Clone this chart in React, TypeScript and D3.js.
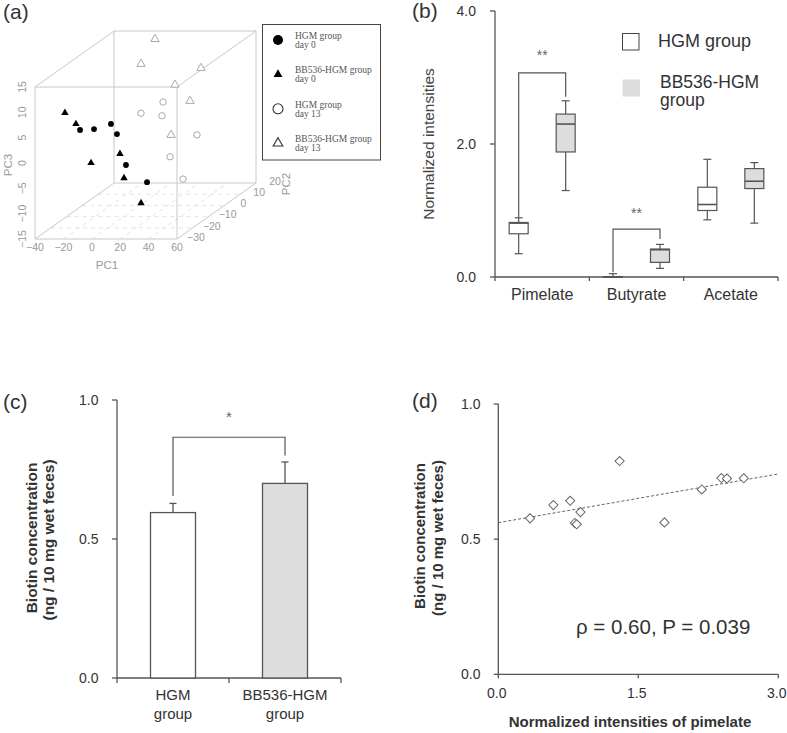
import React from "react";
import * as d3 from "d3";

// ---------- (a) PCA scores [PC1, PC2, PC3] ----------
const pcaHgmDay0: number[][] = [[-19.4, -20, 4.3], [-4.0, -25, 5.6], [-3.2, -15, 4.4], [6.6, -20, 3.5], [18.5, -25, -1.5], [22.2, -15, -7.1]];
const pcaBbDay0: number[][] = [[-35.6, -15, 6.6], [-22.3, -20, 5.5], [-6.1, -25, -1.1], [8.7, -20, -0.4], [6.0, -15, -6.3], [29.1, -25, -9.0]];
const pcaHgmDay13: number[][] = [[1.3, 0, 3.2], [11.2, 5, 4.3], [21.6, -5, 3.8], [29.6, 10, -3.3], [21.7, 0, -5.4], [36.4, -5, -8.7]];
const pcaBbDay13: number[][] = [[-5.6, 15, 14.5], [-4.3, 5, 11.8], [32.4, 10, 9.9], [25.2, 0, 8.8], [30.2, 5, 4.5], [28.0, -5, 0]];
const pcaLegend: string[][] = [["HGM group", "day 0"], ["BB536-HGM group", "day 0"], ["HGM group", "day 13"], ["BB536-HGM group", "day 13"]];
const pc1Ticks = [-40, -20, 0, 20, 40, 60];
const pc2Ticks = [-30, -20, -10, 0, 10, 20];
const pc3Ticks = [-15, -10, -5, 0, 5, 10, 15];

// ---------- (b) box plots [min, q1, median, q3, max] ----------
const metabolites = ["Pimelate", "Butyrate", "Acetate"];
const boxGroups = ["HGM group", "BB536-HGM group"];
const hgmBoxes: number[][] = [[0.35, 0.65, 0.81, 0.82, 0.89], [0.0, 0.0, 0.0, 0.005, 0.05], [0.86, 1.0, 1.09, 1.35, 1.77]];
const bbBoxes: number[][] = [[1.3, 1.88, 2.3, 2.45, 2.65], [0.13, 0.22, 0.41, 0.42, 0.49], [0.81, 1.33, 1.44, 1.63, 1.72]];
const bTicks = [0, 2, 4];
// significance brackets: [category, top, left leg end, right leg end, star level]
const bSig: [string, number, number, number, number][] = [["Pimelate", 3.07, 0.9, 2.71, 3.37], ["Butyrate", 0.72, 0.07, 0.57, 1.0]];

// ---------- (c) bars ----------
const barGroups = ["HGM group", "BB536-HGM group"];
const barMeans = [0.595, 0.70];
const barErrors = [0.033, 0.077];
const cTicks = [0, 0.5, 1.0];
const cSig = { top: 0.866, leftEnd: 0.655, rightEnd: 0.8, star: 0.95 };

// ---------- (d) scatter ----------
const pimelate = [0.34, 0.59, 0.77, 0.88, 0.82, 0.84, 1.3, 1.78, 2.18, 2.39, 2.45, 2.63];
const biotin = [0.577, 0.626, 0.642, 0.6, 0.56, 0.555, 0.789, 0.562, 0.684, 0.726, 0.724, 0.725];
const fitIntercept = 0.561;
const fitSlope = 0.06;
const dXTicks = [0, 1.5, 3.0];
const dYTicks = [0, 0.5, 1.0];

const SANS = "'Liberation Sans', Arial, sans-serif";
const SERIF = "'Liberation Serif', 'Times New Roman', serif";
const AX = "#555";
const TXT = "#333";

export default function App() {
  // ===== (a) =====
  const pc1 = d3.scaleLinear().domain([-40, 60]).range([35, 177]);
  const pc3 = d3.scaleLinear().domain([-15, 15]).range([239, 87]);
  const depth = d3.scaleLinear().domain([-30, 20]).range([0, 1]);
  const proj = (a: number, b: number, c: number): [number, number] => [pc1(a) + 79 * depth(b), pc3(c) - 56 * depth(b)];
  const [x0, x1] = pc1.domain();
  const [y0, y1] = depth.domain();
  const [z0, z1] = pc3.domain();
  const corners = [x0, x1].flatMap((a) => [y0, y1].flatMap((b) => [z0, z1].map((c) => [a, b, c])));
  const edges: [number[], number[]][] = [];
  corners.forEach((p, i) => corners.forEach((q, j) => {
    if (j > i) {
      const diff = p.filter((v, k) => v !== q[k]).length;
      if (diff === 1) edges.push([p, q]);
    }
  }));
  const triSmall = d3.symbol().type(d3.symbolTriangle).size(24)() as string;
  const triLegend = d3.symbol().type(d3.symbolTriangle).size(34)() as string;
  const triOpen = d3.symbol().type(d3.symbolTriangle).size(30)() as string;
  const triOpenLegend = d3.symbol().type(d3.symbolTriangle).size(40)() as string;

  // ===== (b) =====
  const bx = d3.scaleBand().domain(metabolites).range([495, 778]);
  const by = d3.scaleLinear().domain([0, 4]).range([277, 11]);
  const bOff = d3.scaleOrdinal<string, number>().domain(boxGroups).range([-23.5, 23.5]);
  const bc = (m: string) => (bx(m) as number) + bx.bandwidth() / 2;
  const boxW = 19;
  const capW = 8;
  const renderBox = (m: string, g: string, v: number[], fill: string, key: string) => {
    const cx = bc(m) + bOff(g);
    return (
      <g key={key} stroke={AX} strokeWidth={1.2}>
        <line x1={cx} x2={cx} y1={by(v[0])} y2={by(v[1])} />
        <line x1={cx} x2={cx} y1={by(v[3])} y2={by(v[4])} />
        <line x1={cx - capW / 2} x2={cx + capW / 2} y1={by(v[0])} y2={by(v[0])} />
        <line x1={cx - capW / 2} x2={cx + capW / 2} y1={by(v[4])} y2={by(v[4])} />
        <rect x={cx - boxW / 2} y={by(v[3])} width={boxW} height={by(v[1]) - by(v[3])} fill={fill} />
        <line x1={cx - boxW / 2} x2={cx + boxW / 2} y1={by(v[2])} y2={by(v[2])} strokeWidth={1.6} />
      </g>
    );
  };

  // ===== (c) =====
  const cxs = d3.scaleBand().domain(barGroups).range([117, 341]);
  const cy = d3.scaleLinear().domain([0, 1]).range([678, 400]);
  const barW = 45;
  const cc = (g: string) => (cxs(g) as number) + cxs.bandwidth() / 2;

  // ===== (d) =====
  const dx = d3.scaleLinear().domain([0, 3]).range([498.3, 778.3]);
  const dy = d3.scaleLinear().domain([0, 1]).range([674.3, 404]);
  const diamond = d3.symbol().type(d3.symbolSquare).size(42)() as string;

  return (
    <svg width={787} height={733} style={{ position: "absolute", left: 0, top: 0, background: "#fff" }} fontFamily={SANS}>
      <rect x={0} y={0} width={787} height={733} fill="#fff" />
      {/* panel labels */}
      <text x={3} y={19} fontSize={21} fill={TXT}>(a)</text>
      <text x={412} y={18} fontSize={21} fill={TXT}>(b)</text>
      <text x={3} y={409} fontSize={21} fill={TXT}>(c)</text>
      <text x={412} y={408} fontSize={21} fill={TXT}>(d)</text>

      {/* ===== (a) ===== */}
      <g>
        {pc1Ticks.slice(1, -1).map((t) => {
          const [ax, ay] = proj(t, y0, z0);
          const [bx2, by2] = proj(t, y1, z0);
          return <line key={"g1" + t} x1={ax} y1={ay} x2={bx2} y2={by2} stroke="#e2e2e2" strokeDasharray="4,4" />;
        })}
        {pc2Ticks.slice(1, -1).map((t) => {
          const [ax, ay] = proj(x0, t, z0);
          const [bx2, by2] = proj(x1, t, z0);
          return <line key={"g2" + t} x1={ax} y1={ay} x2={bx2} y2={by2} stroke="#e2e2e2" strokeDasharray="4,4" />;
        })}
        {edges.map(([p, q], i) => {
          const [ax, ay] = proj(p[0], p[1], p[2]);
          const [bx2, by2] = proj(q[0], q[1], q[2]);
          return <line key={"e" + i} x1={ax} y1={ay} x2={bx2} y2={by2} stroke="#c8c8c8" strokeWidth={1} />;
        })}
        {pc1Ticks.map((t) => (
          <text key={"t1" + t} x={pc1(t)} y={250.5} fontSize={10.5} fill="#999" textAnchor="middle">{t < 0 ? "\u2212" + Math.abs(t) : t}</text>
        ))}
        {pc3Ticks.map((t) => (
          <text key={"t3" + t} transform={`translate(26,${pc3(t)}) rotate(-90)`} fontSize={10.5} fill="#999" textAnchor="middle">{t < 0 ? "\u2212" + Math.abs(t) : t}</text>
        ))}
        {pc2Ticks.map((t) => {
          const [px, py] = proj(x1, t, z0);
          return <text key={"t2" + t} x={px + 19} y={py + 1.8} fontSize={10.5} fill="#999" textAnchor="middle">{t < 0 ? "\u2212" + Math.abs(t) : t}</text>;
        })}
        <text x={107} y={269} fontSize={11.5} fill="#999" textAnchor="middle">PC1</text>
        <text transform="translate(11.5,165) rotate(-90)" fontSize={11.5} fill="#999" textAnchor="middle">PC3</text>
        <text transform="translate(290,184) rotate(-90)" fontSize={11.5} fill="#999" textAnchor="middle">PC2</text>

        {pcaHgmDay13.map((p, i) => {
          const [px, py] = proj(p[0], p[1], p[2]);
          return <circle key={"oc" + i} cx={px} cy={py} r={3.2} fill="#fff" stroke="#aaa" strokeWidth={1} />;
        })}
        {pcaBbDay13.map((p, i) => {
          const [px, py] = proj(p[0], p[1], p[2]);
          return <path key={"ot" + i} d={triOpen} transform={`translate(${px},${py})`} fill="#fff" stroke="#aaa" strokeWidth={1} />;
        })}
        {pcaHgmDay0.map((p, i) => {
          const [px, py] = proj(p[0], p[1], p[2]);
          return <circle key={"fc" + i} cx={px} cy={py} r={2.9} fill="#000" />;
        })}
        {pcaBbDay0.map((p, i) => {
          const [px, py] = proj(p[0], p[1], p[2]);
          return <path key={"ft" + i} d={triSmall} transform={`translate(${px},${py})`} fill="#000" />;
        })}

        {/* legend */}
        <rect x={262.5} y={24.5} width={118} height={135.5} fill="#fff" stroke="#444" strokeWidth={1} />
        {pcaLegend.map((lines, i) => {
          const sy = 40 + i * 34.4;
          const marker =
            i === 0 ? <circle cx={278} cy={sy} r={5} fill="#000" /> :
            i === 1 ? <path d={triLegend} transform={`translate(278,${sy})`} fill="#000" /> :
            i === 2 ? <circle cx={278} cy={sy} r={5} fill="#fff" stroke="#333" strokeWidth={1.1} /> :
            <path d={triOpenLegend} transform={`translate(278,${sy})`} fill="#fff" stroke="#333" strokeWidth={1.1} />;
          return (
            <g key={"lg" + i}>
              {marker}
              <text x={295} y={sy - 1} fontFamily={SERIF} fontSize={9.5} fill="#555">{lines[0]}</text>
              <text x={295} y={sy + 8} fontFamily={SERIF} fontSize={9.5} fill="#555">{lines[1]}</text>
            </g>
          );
        })}
      </g>

      {/* ===== (b) ===== */}
      <g>
        <line x1={495} x2={495} y1={by(4)} y2={by(0) + 4} stroke={AX} strokeWidth={1.3} />
        <line x1={495} x2={778} y1={by(0)} y2={by(0)} stroke={AX} strokeWidth={1.3} />
        {bTicks.map((t) => (
          <g key={"bt" + t}>
            <line x1={490} x2={495} y1={by(t)} y2={by(t)} stroke={AX} strokeWidth={1.3} />
            <text x={476} y={by(t) + 5} fontSize={14} fill={TXT} textAnchor="end">{t.toFixed(1)}</text>
          </g>
        ))}
        {metabolites.map((m, i) => (
          <line key={"bxt" + i} x1={(bx(m) as number) + bx.bandwidth()} x2={(bx(m) as number) + bx.bandwidth()} y1={by(0)} y2={by(0) + 4} stroke={AX} strokeWidth={1.3} />
        ))}
        {metabolites.map((m) => (
          <text key={"bl" + m} x={bc(m)} y={300} fontSize={16} fill={TXT} textAnchor="middle">{m}</text>
        ))}
        <text transform={`translate(434,${by(2)}) rotate(-90)`} fontSize={15.5} fill="#444" textAnchor="middle">Normalized intensities</text>
        {metabolites.map((m, i) => renderBox(m, boxGroups[0], hgmBoxes[i], "#fff", "bh" + i))}
        {metabolites.map((m, i) => renderBox(m, boxGroups[1], bbBoxes[i], "#ddd", "bb" + i))}
        {bSig.map(([m, top, le, re, st]) => {
          const l = bc(m) + bOff(boxGroups[0]);
          const r = bc(m) + bOff(boxGroups[1]);
          return (
            <g key={"sig" + m}>
              <path d={`M${l},${by(le)}V${by(top)}H${r}V${by(re)}`} fill="none" stroke={AX} strokeWidth={1.2} />
              <text x={(l + r) / 2} y={by(st) + 7.5} fontSize={14} fill="#666" textAnchor="middle">**</text>
            </g>
          );
        })}
        {/* legend */}
        <rect x={622.5} y={33.5} width={16.5} height={16.5} fill="#fff" stroke="#444" strokeWidth={1} />
        <text x={658} y={46.7} fontSize={18} fill={TXT}>{boxGroups[0]}</text>
        <rect x={622.5} y={79.5} width={17.5} height={17} fill="#ddd" />
        <text x={660} y={87.5} fontSize={17.5} fill={TXT}>BB536-HGM</text>
        <text x={660} y={106} fontSize={17.5} fill={TXT}>group</text>
      </g>

      {/* ===== (c) ===== */}
      <g>
        <line x1={117} x2={117} y1={cy(1)} y2={cy(0) + 5} stroke={AX} strokeWidth={1.3} />
        <line x1={117} x2={341} y1={cy(0)} y2={cy(0)} stroke={AX} strokeWidth={1.3} />
        {cTicks.map((t) => (
          <g key={"ct" + t}>
            <line x1={112} x2={117} y1={cy(t)} y2={cy(t)} stroke={AX} strokeWidth={1.3} />
            <text x={98.5} y={cy(t) + 5} fontSize={14} fill={TXT} textAnchor="end">{t.toFixed(1)}</text>
          </g>
        ))}
        {barGroups.map((g) => (
          <line key={"cxt" + g} x1={(cxs(g) as number) + cxs.bandwidth()} x2={(cxs(g) as number) + cxs.bandwidth()} y1={cy(0)} y2={cy(0) + 5} stroke={AX} strokeWidth={1.3} />
        ))}
        {barGroups.map((g, i) => (
          <g key={"bar" + g}>
            <line x1={cc(g)} x2={cc(g)} y1={cy(barMeans[i])} y2={cy(barMeans[i] + barErrors[i])} stroke={AX} strokeWidth={1.3} />
            <line x1={cc(g) - 3.5} x2={cc(g) + 3.5} y1={cy(barMeans[i] + barErrors[i])} y2={cy(barMeans[i] + barErrors[i])} stroke={AX} strokeWidth={1.3} />
            <rect x={cc(g) - barW / 2} y={cy(barMeans[i])} width={barW} height={cy(0) - cy(barMeans[i])} fill={i === 0 ? "#fff" : "#ddd"} stroke={AX} strokeWidth={1.3} />
          </g>
        ))}
        <path d={`M${cc(barGroups[0])},${cy(cSig.leftEnd)}V${cy(cSig.top)}H${cc(barGroups[1])}V${cy(cSig.rightEnd)}`} fill="none" stroke={AX} strokeWidth={1.2} />
        <text x={(cc(barGroups[0]) + cc(barGroups[1])) / 2} y={cy(cSig.star) + 8} fontSize={15} fill="#666" textAnchor="middle">*</text>
        {barGroups.map((g) => {
          const parts = g.split(" ");
          return (
            <g key={"cl" + g}>
              <text x={cc(g)} y={700} fontSize={15} fill={TXT} textAnchor="middle">{parts[0]}</text>
              <text x={cc(g)} y={719} fontSize={15} fill={TXT} textAnchor="middle">{parts[1]}</text>
            </g>
          );
        })}
        <text transform="translate(37,538) rotate(-90)" fontSize={15.5} fontWeight="bold" fill={TXT} textAnchor="middle">Biotin concentration</text>
        <text transform="translate(54,540) rotate(-90)" fontSize={15.5} fontWeight="bold" fill={TXT} textAnchor="middle">(ng / 10 mg wet feces)</text>
      </g>

      {/* ===== (d) ===== */}
      <g>
        <line x1={dx(0)} x2={dx(0)} y1={dy(1)} y2={dy(0)} stroke={AX} strokeWidth={1.3} />
        <line x1={dx(0)} x2={dx(3)} y1={dy(0)} y2={dy(0)} stroke={AX} strokeWidth={1.3} />
        {dYTicks.map((t) => (
          <g key={"dyt" + t}>
            <line x1={dx(0) - 4.5} x2={dx(0)} y1={dy(t)} y2={dy(t)} stroke={AX} strokeWidth={1.3} />
            <text x={480.5} y={dy(t) + 5} fontSize={14} fill={TXT} textAnchor="end">{t.toFixed(1)}</text>
          </g>
        ))}
        {dXTicks.map((t) => (
          <g key={"dxt" + t}>
            <line x1={dx(t)} x2={dx(t)} y1={dy(0)} y2={dy(0) + 4} stroke={AX} strokeWidth={1.3} />
            <text x={dx(t) - 1.5} y={698.3} fontSize={14} fill={TXT} textAnchor="middle">{t.toFixed(1)}</text>
          </g>
        ))}
        <line x1={dx(0)} x2={dx(3)} y1={dy(fitIntercept)} y2={dy(fitIntercept + fitSlope * 3)} stroke="#666" strokeWidth={1} strokeDasharray="3,2" />
        {pimelate.map((p, i) => (
          <path key={"dm" + i} d={diamond} transform={`translate(${dx(p)},${dy(biotin[i])}) rotate(45)`} fill="#fff" stroke="#666" strokeWidth={1} />
        ))}
        <text x={576} y={633.5} fontSize={20.5} fill={TXT}>ρ = 0.60, P = 0.039</text>
        <text x={630} y={727} fontSize={15} fontWeight="bold" fill={TXT} textAnchor="middle">Normalized intensities of pimelate</text>
        <text transform="translate(424.5,536) rotate(-90)" fontSize={15} fontWeight="bold" fill={TXT} textAnchor="middle">Biotin concentration</text>
        <text transform="translate(443,538) rotate(-90)" fontSize={15} fontWeight="bold" fill={TXT} textAnchor="middle">(ng / 10 mg wet feces)</text>
      </g>
    </svg>
  );
}
